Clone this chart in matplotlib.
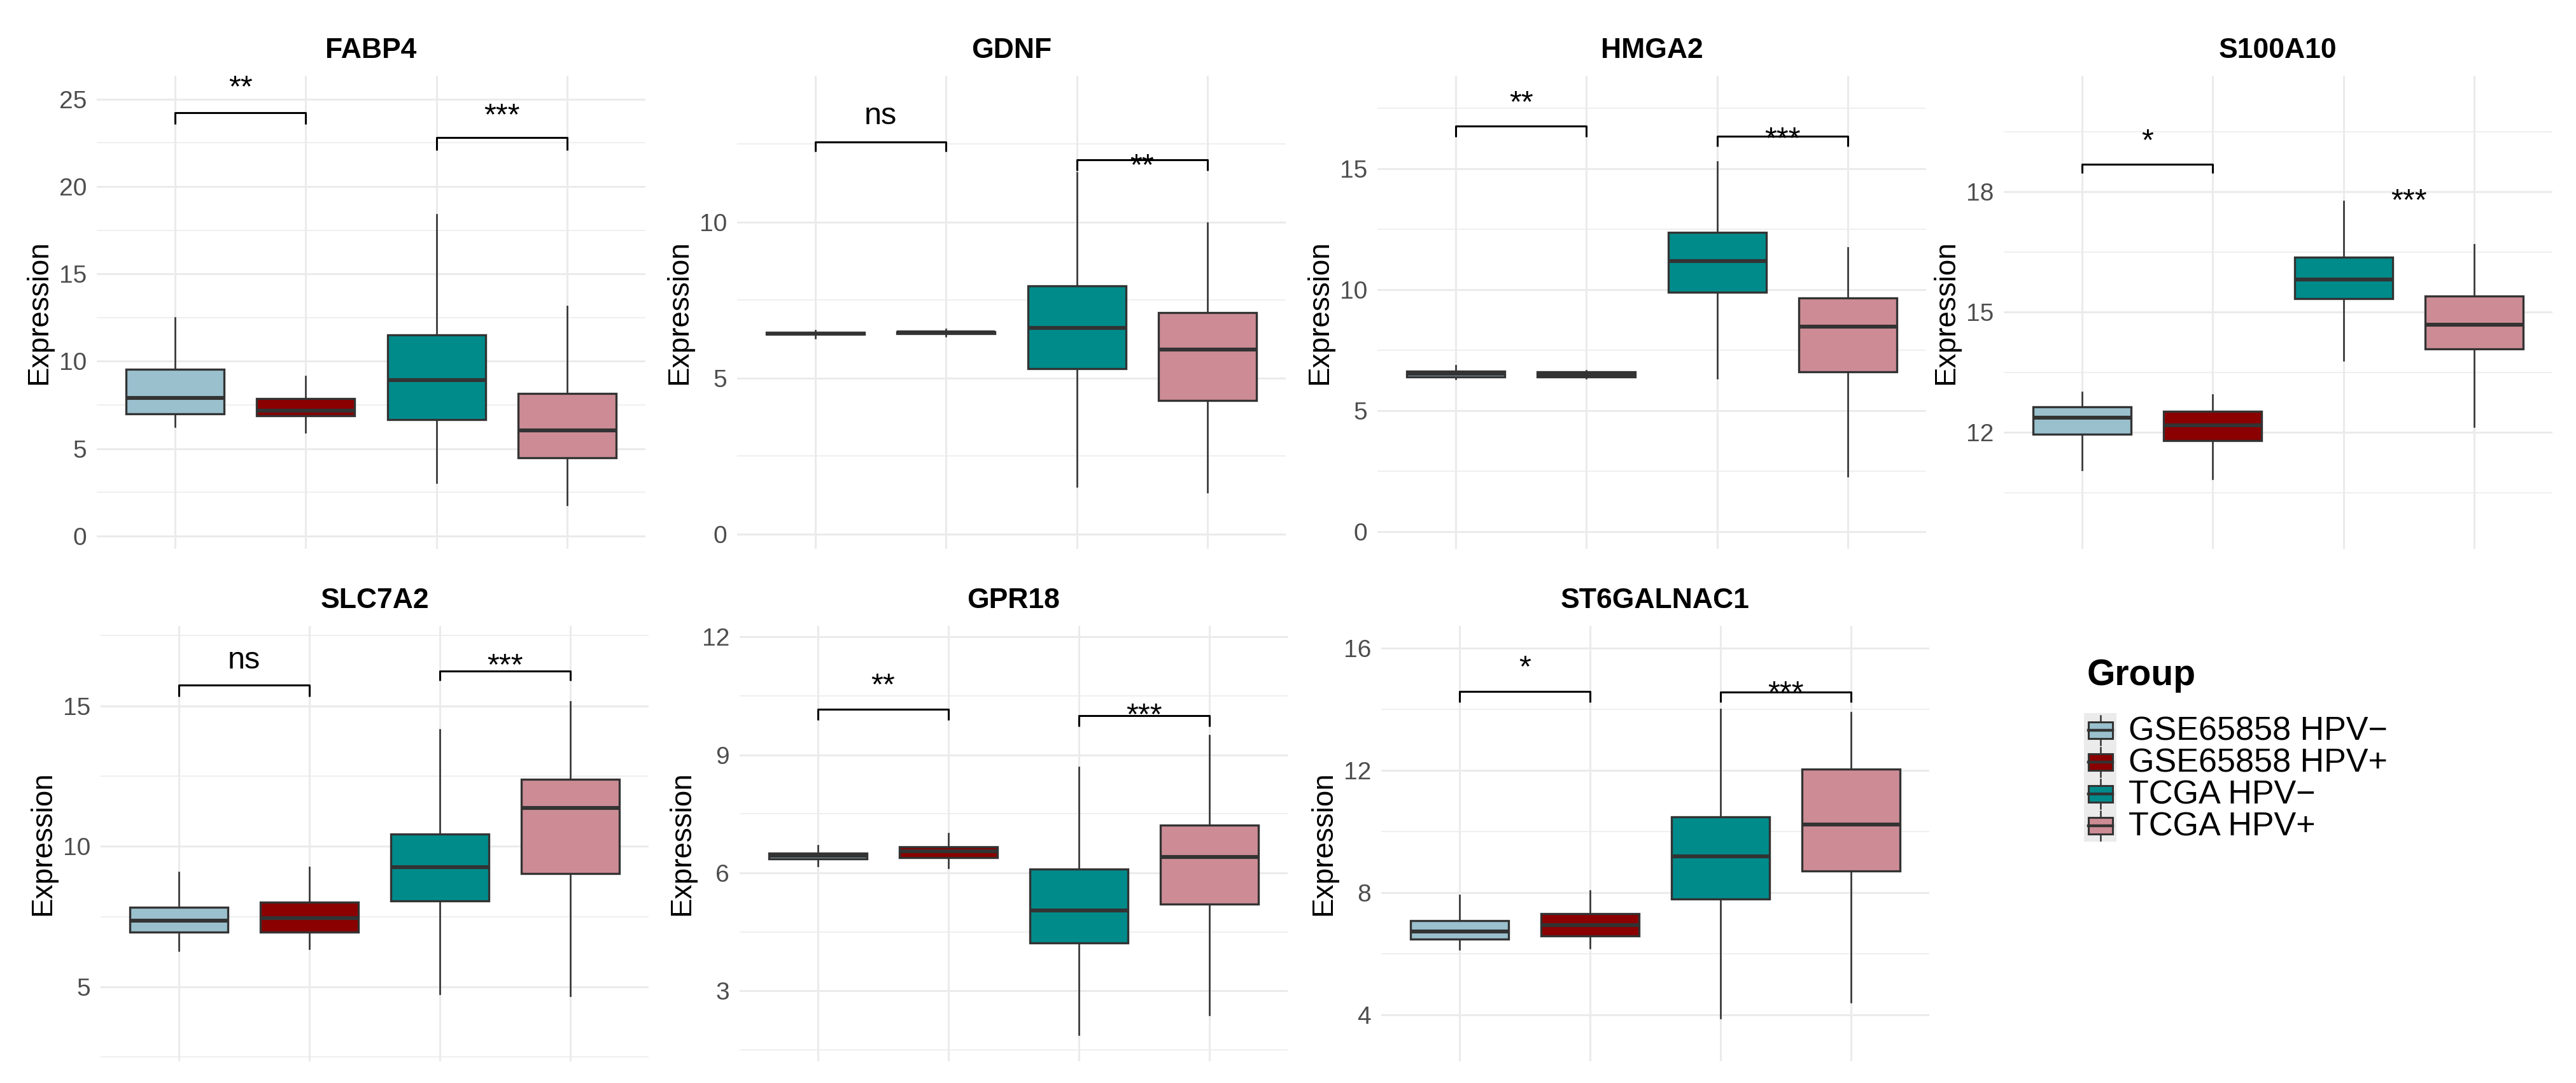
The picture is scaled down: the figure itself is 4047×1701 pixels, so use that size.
import numpy as np
import matplotlib
matplotlib.use("Agg")
import matplotlib.pyplot as plt
from matplotlib.patches import Rectangle
from matplotlib.ticker import MultipleLocator

plt.rcParams['font.family'] = ['Liberation Sans', 'DejaVu Sans']

W, H = 4048, 1701

groups = ["GSE65858 HPV−", "GSE65858 HPV+", "TCGA HPV−", "TCGA HPV+"]
colors = ["#9AC0CD", "#8B0000", "#008B8B", "#CD8C95"]
genes = ["FABP4", "GDNF", "HMGA2", "S100A10", "SLC7A2", "GPR18", "ST6GALNAC1"]

# box summaries per group: whisker low, q1, median, q3, whisker high
fabp4 = [[6.27, 6.98, 7.90, 9.53, 12.5], [5.92, 6.88, 7.18, 7.86, 9.16],
         [3.06, 6.67, 8.92, 11.5, 18.4], [1.78, 4.49, 6.06, 8.16, 13.16]]
gdnf = [[6.29, 6.41, 6.43, 6.46, 6.52], [6.35, 6.43, 6.46, 6.48, 6.56],
        [1.52, 5.31, 6.62, 7.95, 11.58], [1.35, 4.29, 5.92, 7.09, 9.98]]
hmga2 = [[6.31, 6.40, 6.52, 6.63, 6.87], [6.34, 6.38, 6.49, 6.60, 6.65],
         [6.34, 9.89, 11.19, 12.37, 15.3], [2.28, 6.60, 8.47, 9.66, 11.73]]
s100a10 = [[11.06, 11.96, 12.37, 12.64, 13.0], [10.84, 11.80, 12.18, 12.52, 12.94],
           [13.80, 15.34, 15.81, 16.37, 17.77], [12.15, 14.08, 14.69, 15.40, 16.68]]
slc7a2 = [[6.29, 6.96, 7.36, 7.83, 9.08], [6.35, 6.96, 7.46, 8.01, 9.27],
          [4.75, 8.05, 9.27, 10.45, 14.16], [4.69, 9.03, 11.37, 12.38, 15.15]]
gpr18 = [[6.18, 6.35, 6.44, 6.51, 6.69], [6.13, 6.39, 6.55, 6.67, 7.01],
         [1.89, 4.22, 5.05, 6.09, 8.68], [2.39, 5.21, 6.40, 7.21, 9.49]]
st6galnac1 = [[6.15, 6.49, 6.73, 7.10, 7.92], [6.19, 6.60, 6.94, 7.32, 8.06],
              [3.91, 7.79, 9.20, 10.49, 14.0], [4.42, 8.71, 10.24, 12.05, 13.89]]
all_stats = [fabp4, gdnf, hmga2, s100a10, slc7a2, gpr18, st6galnac1]

# significance: labels, bracket height, tip bottom, label centre (None = no bracket drawn)
sig_labels = [["**", "***"], ["ns", "**"], ["**", "***"], ["*", "***"],
              ["ns", "***"], ["**", "***"], ["*", "***"]]
bracket_y = [[24.24, 22.8], [12.57, 11.99], [16.76, 16.34], [18.68, None],
             [15.74, 16.25], [10.16, 10.0], [14.58, 14.56]]
tip_y = [[23.57, 22.08], [12.27, 11.64], [16.31, 15.92], [18.46, None],
         [15.33, 15.89], [9.89, 9.73], [14.24, 14.23]]
label_y = [[26.19, 24.6], [13.39, 12.1], [18.10, 16.62], [19.50, 18.0],
           [16.62, 16.75], [11.0, 10.24], [15.66, 14.84]]

y_limits = [(-0.73, 26.34), (-0.47, 14.69), (-0.72, 18.85), (9.10, 20.89),
            (2.35, 17.85), (1.21, 12.28), (2.49, 16.73)]
y_steps = [5, 5, 5, 3, 5, 3, 4]

# panel boxes in pixels: left, top, width, height
panel_px = [(152, 119, 862, 743), (1158, 119, 862, 743), (2164, 119, 862, 743), (3148, 119, 862, 743),
            (158, 983, 861, 684), (1162, 983, 861, 684), (2170, 983, 861, 684)]

fig = plt.figure(figsize=(W / 100, H / 100), dpi=100)

def px_axes(left, top, width, height):
    return fig.add_axes([left / W, 1 - (top + height) / H, width / W, height / H])

def to_bxp(rows):
    return [dict(whislo=r[0], q1=r[1], med=r[2], q3=r[3], whishi=r[4]) for r in rows]

for i, gene in enumerate(genes):
    left, top, w, h = panel_px[i]
    ax = px_axes(left, top, w, h)
    bp = ax.bxp(to_bxp(all_stats[i]), positions=[1, 2, 3, 4], widths=0.75,
                patch_artist=True, showfliers=False, showcaps=False,
                boxprops=dict(edgecolor="#333333", linewidth=2.4),
                medianprops=dict(color="#333333", linewidth=4.4),
                whiskerprops=dict(color="#333333", linewidth=1.9))
    for patch, c in zip(bp["boxes"], colors):
        patch.set_facecolor(c)

    ax.set_xlim(0.4, 4.6)
    ax.set_ylim(*y_limits[i])
    ax.set_xticks([1, 2, 3, 4])
    ax.yaxis.set_major_locator(MultipleLocator(y_steps[i]))
    ax.yaxis.set_minor_locator(MultipleLocator(y_steps[i] / 2))
    ax.grid(which="major", color="#EBEBEB", linewidth=2.2)
    ax.grid(which="minor", axis="y", color="#EBEBEB", linewidth=1.1)
    ax.set_axisbelow(True)
    for s in ax.spines.values():
        s.set_visible(False)
    ax.tick_params(which="both", length=0)
    ax.tick_params(axis="x", labelbottom=False)
    ax.tick_params(axis="y", labelsize=28, labelcolor="#4D4D4D", pad=11.5)

    ax.text(0.5, 1 + (44 - 16) / h, gene, transform=ax.transAxes, ha="center",
            va="baseline", fontsize=32, fontweight="bold")
    ax.text(-91 / w, 0.5, "Expression", transform=ax.transAxes, rotation=90,
            ha="center", va="center", fontsize=33)

    # comparison brackets
    for j, (x1, x2) in enumerate([(1, 2), (3, 4)]):
        lab = sig_labels[i][j]
        if bracket_y[i][j] is not None:
            by, ty = bracket_y[i][j], tip_y[i][j]
            ax.plot([x1, x1, x2, x2], [ty, by, by, ty], color="black", lw=2.2,
                    solid_capstyle="butt", clip_on=False)
        k = 0.26 if lab == "ns" else 0.575
        ax.annotate(lab, xy=((x1 + x2) / 2, label_y[i][j]), xytext=(0, -k * 35),
                    textcoords="offset points", ha="center", va="baseline",
                    fontsize=35, annotation_clip=False)

# legend drawn in pixel space
lg = fig.add_axes([0, 0, 1, 1])
lg.set_xlim(0, W)
lg.set_ylim(H, 0)
lg.axis("off")
lg.text(3279, 1061, "Group", ha="left", va="center", fontsize=41, fontweight="bold")
lg.add_patch(Rectangle((3274, 1120), 51, 202, facecolor="#EBEBEB", edgecolor="none"))
for j, (name, c) in enumerate(zip(groups, colors)):
    cy = 1147 + 50 * j
    lg.add_patch(Rectangle((3281, cy - 13), 38, 26, facecolor=c, edgecolor="#333333", lw=2.2))
    lg.plot([3281, 3319], [cy, cy], color="#333333", lw=3.2)
    lg.plot([3300, 3300], [cy - 13, cy - 23], color="#333333", lw=1.8)
    lg.plot([3300, 3300], [cy + 13, cy + 23], color="#333333", lw=1.8)
    lg.text(3344, cy + 2, name, ha="left", va="center", fontsize=37.5)

fig.savefig("out.png", dpi=100)
